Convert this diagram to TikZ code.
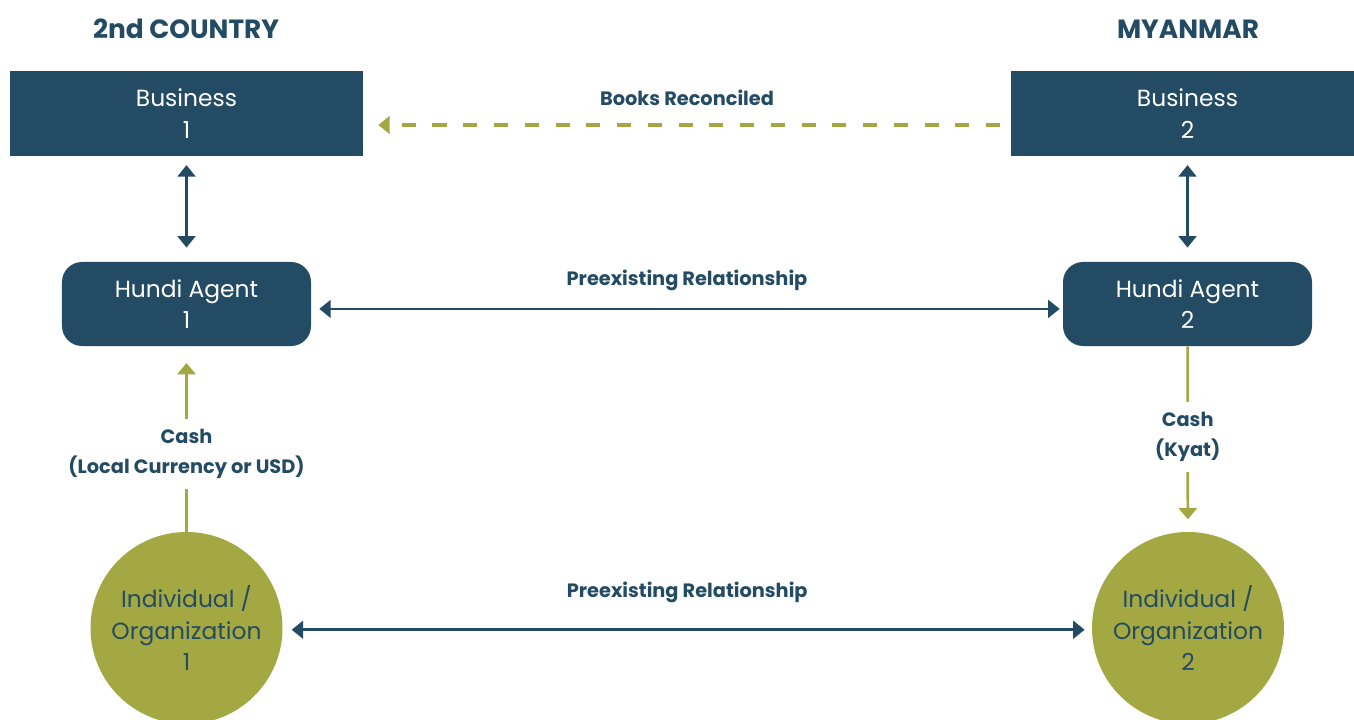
\documentclass[tikz,border=0pt]{standalone}
\usepackage{fontspec}
\setmainfont{Poppins}
\usetikzlibrary{arrows.meta}

\definecolor{hundiblue}{RGB}{35,75,99}
\definecolor{hundiolive}{RGB}{164,168,67}

\begin{document}
\begin{tikzpicture}[x=0.2mm, y=0.2mm,
		business/.style={fill=hundiblue, text=white, minimum width=7.06cm, minimum height=1.7cm, inner sep=0pt, align=center, font=\fontsize{13.3}{18}\selectfont},
		agent/.style={fill=hundiblue, text=white, rounded corners=0.4cm, minimum width=4.98cm, minimum height=1.68cm, inner sep=0pt, align=center, font=\fontsize{13.3}{17.6}\selectfont},
		party/.style={circle, fill=hundiolive, text=hundiblue, minimum size=3.84cm, inner sep=0pt, align=center, font=\fontsize{13.3}{18}\selectfont},
		country/.style={text=hundiblue, font=\fontsize{15}{18}\selectfont\bfseries},
		lbl/.style={text=hundiblue, align=center, font=\fontsize{11}{17}\selectfont\bfseries},
		link/.style={hundiblue, line width=1.6pt, {Triangle[width=10pt,length=6.5pt]}-{Triangle[width=10pt,length=6.5pt]}},
		cash/.style={hundiolive, line width=1.5pt, -{Triangle[width=10.5pt,length=6.5pt]}}]
	\useasboundingbox (0,0) rectangle (1354,-720);
	% column headings
	\node[country] (head1) at (186,-29) {2nd COUNTRY};
	\node[country] (head2) at (1188,-29) {MYANMAR};
	% businesses
	\node[business] (bus1) at (186.5,-113.5) {Business\\1};
	\node[business] (bus2) at (1187.5,-113.5) {Business\\2};
	% hundi agents
	\node[agent] (agent1) at (186.5,-304) {Hundi Agent\\1};
	\node[agent] (agent2) at (1187.5,-304) {Hundi Agent\\2};
	% individuals / organizations
	\node[party] (party1) at (186.5,-628) {Individual /\\Organization\\1};
	\node[party] (party2) at (1188,-628) {Individual /\\Organization\\2};
	% books reconciled between the businesses
	\coordinate (books) at (0,-125);
	\draw[hundiolive, line width=1.8pt, dash pattern=on 8pt off 9.5pt, -{Triangle[width=10pt,length=6.5pt]}, shorten <=6pt, shorten >=8.5pt] (bus2.west |- books) -- (bus1.east |- books)
		node[lbl, midway, yshift=15.5pt] {Books Reconciled};
	\draw[link, shorten <=5pt, shorten >=8pt] (bus1) -- (agent1);
	\draw[link, shorten <=5pt, shorten >=8pt] (bus2) -- (agent2);
	% agents and parties know each other
	\draw[link, shorten <=4.5pt, shorten >=1.7pt] ([yshift=-2.8pt]agent1.east) -- ([yshift=-2.8pt]agent2.west)
		node[lbl, midway, yshift=16.5pt] {Preexisting Relationship};
	\draw[link, shorten <=5pt, shorten >=4pt] ([yshift=-1pt]party1.east) -- ([yshift=-1pt]party2.west)
		node[lbl, midway, yshift=21.5pt] {Preexisting Relationship};
	% cash flows
	\draw[cash, shorten >=9.5pt] (party1) -- (agent1)
		node[lbl, fill=white, pos=0.42, inner xsep=0pt, inner ysep=6pt] {Cash\\(Local Currency or USD)};
	\draw[cash, shorten >=7pt] (agent2) -- (party2)
		node[lbl, fill=white, pos=0.49, inner xsep=2pt, inner ysep=6pt] {Cash\\(Kyat)};
\end{tikzpicture}
\end{document}
